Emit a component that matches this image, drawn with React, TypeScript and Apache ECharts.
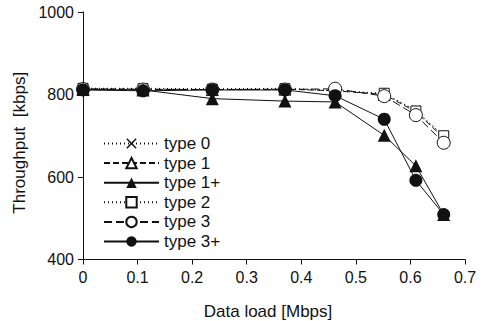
import React, { useEffect, useRef } from "react";
import * as echarts from "echarts";

const xLoad = [0, 0.11, 0.237, 0.37, 0.462, 0.552, 0.61, 0.661];
const type0 = [815, 815, 814, 815, 810, 802, 762, 698];
const type1 = [814, 813, 812, 813, 809, 800, 758, 695];
const type1p = [812, 811, 790, 784, 782, 701, 627, 509];
const type2 = [815, 814, 813, 814, 809, 803, 760, 700];
const type3 = [813, 812, 812, 812, 814, 796, 750, 683];
const type3p = [811, 809, 811, 811, 797, 740, 592, 509];
const legendNames = ["type 0", "type 1", "type 1+", "type 2", "type 3", "type 3+"];
const xTicks = { min: 0, max: 0.7, interval: 0.1 };
const yTicks = { min: 400, max: 1000, interval: 200 };

const pair = (ys: number[]) => xLoad.map((x, i) => [x, ys[i]]);

const crossPath =
  "path://M1,0 L5,4 L9,0 L10,1 L6,5 L10,9 L9,10 L5,6 L1,10 L0,9 L4,5 L0,1 Z";

export default function App() {
  const ref = useRef<HTMLDivElement>(null);
  useEffect(() => {
    if (!ref.current) return;
    const chart = echarts.init(ref.current, undefined, { renderer: "svg" });
    const font = "Liberation Sans";
    const ink = "#111";
    const mk = (
      name: string,
      data: number[],
      symbol: string,
      size: number,
      filled: boolean,
      type: any
    ) => ({
      name,
      type: "line",
      data: pair(data),
      symbol,
      symbolSize: size,
      showSymbol: true,
      lineStyle: { color: ink, width: 1, type },
      itemStyle: {
        color: filled ? ink : "#fff",
        borderColor: ink,
        borderWidth: filled ? 0 : 1,
      },
      emphasis: { disabled: true },
    });
    chart.setOption({
      animation: false,
      backgroundColor: "#fff",
      textStyle: { fontFamily: font, color: ink },
      grid: { left: 83, right: 19, top: 12, bottom: 61.5, outerBoundsMode: "none", containLabel: false },
      legend: {
        data: legendNames,
        orient: "vertical",
        left: 103,
        top: 135,
        padding: 0,
        itemWidth: 55,
        itemHeight: 13,
        itemGap: 2.6,
        textStyle: { fontFamily: font, fontSize: 17, color: ink },
        selectedMode: false,
      },
      xAxis: {
        type: "value",
        ...xTicks,
        name: "Data load [Mbps]",
        nameLocation: "middle",
        nameGap: 43,
        nameTextStyle: { fontFamily: font, fontSize: 17, color: ink, padding: [0, 12, 0, 0] },
        axisLine: { show: true, onZero: false, lineStyle: { color: ink, width: 1 } },
        axisTick: { show: true, inside: false, length: 5, lineStyle: { color: ink } },
        axisLabel: { fontFamily: font, fontSize: 16, color: ink, margin: 10 },
        splitLine: { show: false },
      },
      yAxis: {
        type: "value",
        ...yTicks,
        name: "Throughput  [kbps]",
        nameLocation: "middle",
        nameGap: 47,
        nameTextStyle: { fontFamily: font, fontSize: 17, color: ink, padding: [0, 14, 0, 0] },
        axisLine: { show: true, lineStyle: { color: ink, width: 1 } },
        axisTick: { show: true, inside: false, length: 5, lineStyle: { color: ink } },
        axisLabel: {
          fontFamily: font,
          fontSize: 16,
          color: ink,
          margin: 9,
          formatter: (v: number) => String(v),
        },
        splitLine: { show: false },
      },
      series: [
        mk("type 0", type0, crossPath, 10, true, [1, 3]),
        mk("type 1", type1, "triangle", 12, false, [6, 3]),
        mk("type 2", type2, "rect", 10, false, [1, 3]),
        mk("type 3", type3, "circle", 13, false, [8, 4]),
        mk("type 1+", type1p, "triangle", 13, true, "solid"),
        mk("type 3+", type3p, "circle", 13, true, "solid"),
      ],
    });
    return () => chart.dispose();
  }, []);
  return <div ref={ref} style={{ width: 484, height: 321, position: "absolute", left: 0, top: 0 }} />;
}
